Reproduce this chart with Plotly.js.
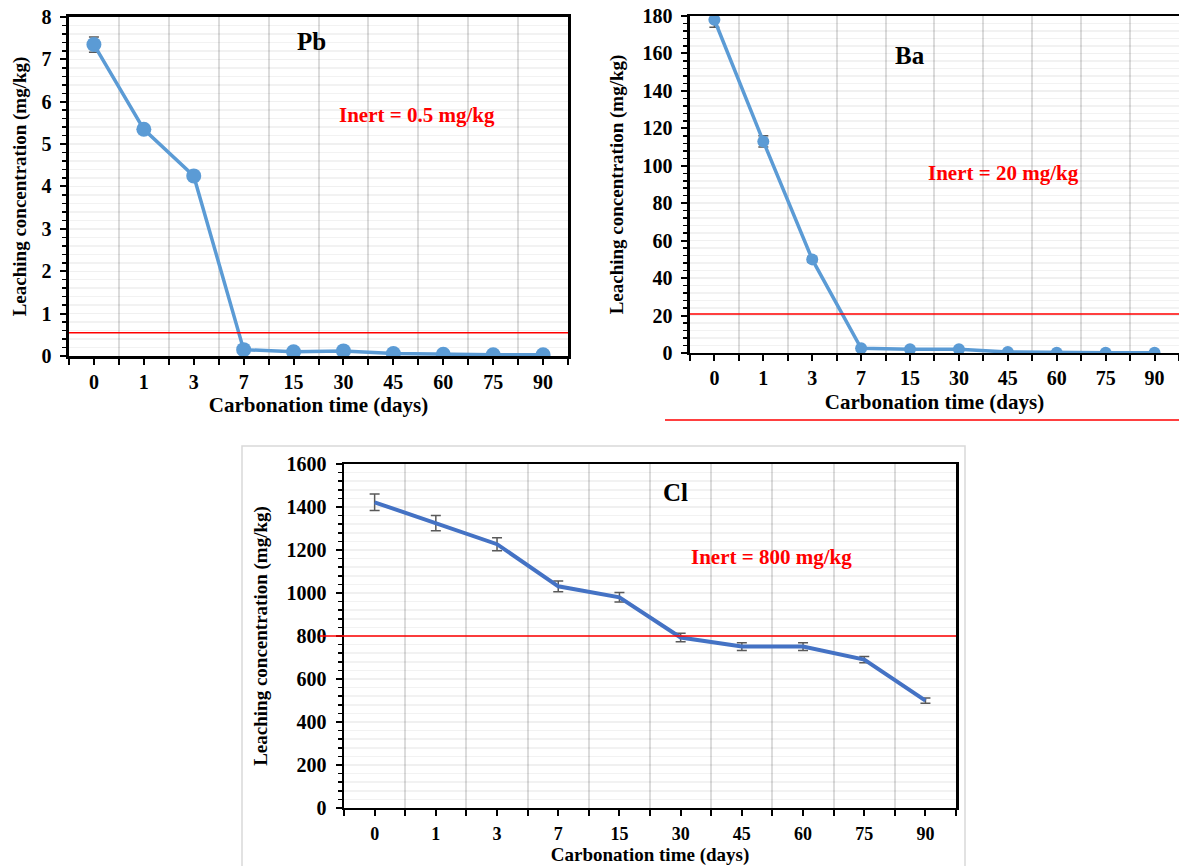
<!DOCTYPE html>
<html><head><meta charset="utf-8">
<script src="https://cdn.plot.ly/plotly-3.0.1.min.js"></script>
<style>html,body{margin:0;padding:0;background:#fff}#chart{width:1179px;height:866px}</style>
</head><body><div id="chart"></div><script>
const days = ['0','1','3','7','15','30','45','60','75','90'];
const pbValues = [7.35,5.35,4.25,0.15,0.10,0.12,0.06,0.04,0.03,0.03];
const pbErrors = [0.18,0.10,0.06,0.02,0.01,0.01,0.01,0.01,0.01,0.01];
const baValues = [178,113,50,2.5,2.0,2.0,0.5,0.1,0.1,0.1];
const baErrors = [4,3,1.5,0.3,0.2,0.2,0.1,0.05,0.05,0.05];
const clValues = [1422,1325,1227,1031,980,793,751,751,690,499];
const clErrors = [38,35,30,25,22,20,18,18,15,12];
const pbInert = 0.55, baInert = 20.8, clInert = 800;
const pbInertLabel = 'Inert = 0.5 mg/kg';
const baInertLabel = 'Inert = 20 mg/kg';
const clInertLabel = 'Inert = 800 mg/kg';
const xTitle = 'Carbonation time (days)';
const yTitle = 'Leaching concentration (mg/kg)';

const idx = days.map((d,i)=>i);
const FONT = 'Liberation Serif, Times New Roman, serif';
const f = (size,color) => ({family:FONT, size:size, color:color||'#000', weight:'bold'});

function xAxis(domain, anchor, tfs, titfs, lstand, standoff){
  return {domain:domain, anchor:anchor, range:[-0.5,9.5], tickmode:'array', tickvals:idx, ticktext:days,
    ticks:'outside', ticklen:6, tickwidth:2, tickcolor:'#000', ticklabelstandoff:lstand,
    showline:true, linecolor:'#000', linewidth:2.5, mirror:true, showgrid:false, zeroline:false,
    tickfont:f(tfs),
    minor:{tick0:-0.5, dtick:1, ticks:'outside', ticklen:6, tickwidth:2, tickcolor:'#000', showgrid:true, gridcolor:'#dcdcdc', gridwidth:2},
    title:{text:xTitle, font:f(titfs), standoff:standoff}};
}
function yAxis(domain, anchor, range, dtick, mdtick, standoff){
  return {domain:domain, anchor:anchor, range:range, dtick:dtick, tick0:0,
    ticks:'outside', ticklen:6, tickwidth:2, tickcolor:'#000', ticklabelstandoff:5,
    showline:true, linecolor:'#000', linewidth:2.5, mirror:true, showgrid:true, gridcolor:'rgba(0,0,0,0.06)', gridwidth:1.5, zeroline:false,
    tickfont:f(20),
    minor:{dtick:mdtick, ticks:'outside', ticklen:4, tickwidth:1.5, tickcolor:'#000', showgrid:true, gridcolor:'rgba(0,0,0,0.05)', gridwidth:1.5},
    title:{text:yTitle, font:f(19), standoff:standoff}};
}

const errStyle = {type:'data', color:'#595959', thickness:1.5, width:5};
const data = [
  {x:idx, y:pbValues, xaxis:'x', yaxis:'y', type:'scatter', mode:'lines+markers',
   line:{color:'#5B9BD5', width:3.5}, marker:{color:'#5B9BD5', size:15},
   error_y:Object.assign({array:pbErrors}, errStyle), showlegend:false},
  {x:idx, y:baValues, xaxis:'x2', yaxis:'y2', type:'scatter', mode:'lines+markers',
   line:{color:'#5B9BD5', width:3.5}, marker:{color:'#5B9BD5', size:12},
   error_y:Object.assign({array:baErrors}, errStyle), showlegend:false},
  {x:idx, y:clValues, xaxis:'x3', yaxis:'y3', type:'scatter', mode:'lines',
   line:{color:'#4472C4', width:4},
   error_y:Object.assign({array:clErrors}, errStyle), showlegend:false}
];

const layout = {
  width:1179, height:866, margin:{l:0,r:0,t:0,b:0}, paper_bgcolor:'#fff', plot_bgcolor:'#fff',
  showlegend:false,
  xaxis: xAxis([0.0585,0.4818],'y',20,21,0,3),
  yaxis: yAxis([0.5889,0.9804],'x',[0,8],1,0.2,10),
  xaxis2: xAxis([0.5852,1.0],'y2',20,21,0,6),
  yaxis2: yAxis([0.5924,0.9815],'x2',[0,180],20,4,14),
  xaxis3: xAxis([0.2918,0.8109],'y3',18,19,2,0),
  yaxis3: yAxis([0.0670,0.4642],'x3',[0,1600],200,40,14),
  shapes:[
    {type:'line', xref:'x domain', yref:'y', x0:0, x1:1, y0:pbInert, y1:pbInert, line:{color:'#ff0000', width:1.5}},
    {type:'line', xref:'x2 domain', yref:'y2', x0:0, x1:1, y0:baInert, y1:baInert, line:{color:'#ff0000', width:1.5}},
    {type:'line', xref:'x3 domain', yref:'y3', x0:-0.04, x1:1, y0:clInert, y1:clInert, line:{color:'#ff0000', width:1.5}},
    {type:'line', xref:'paper', yref:'paper', x0:665/1179, x1:1, y0:1-420/866, y1:1-420/866, line:{color:'#ff0000', width:1.5}},
    {type:'rect', xref:'paper', yref:'paper', x0:242/1179, x1:965/1179, y0:-0.01, y1:1-446/866, line:{color:'#d9d9d9', width:1.5}, layer:'below'}
  ],
  annotations:[
    {text:'Pb', xref:'paper', yref:'paper', x:311/1179, y:1-42/866, showarrow:false, font:f(25), xanchor:'center', yanchor:'middle'},
    {text:pbInertLabel, xref:'paper', yref:'paper', x:417/1179, y:1-115/866, showarrow:false, font:f(21,'#ff0000'), xanchor:'center', yanchor:'middle'},
    {text:'Ba', xref:'paper', yref:'paper', x:910/1179, y:1-56/866, showarrow:false, font:f(25), xanchor:'center', yanchor:'middle'},
    {text:baInertLabel, xref:'paper', yref:'paper', x:1003/1179, y:1-173/866, showarrow:false, font:f(21,'#ff0000'), xanchor:'center', yanchor:'middle'},
    {text:'Cl', xref:'paper', yref:'paper', x:675/1179, y:1-492/866, showarrow:false, font:f(25), xanchor:'center', yanchor:'middle'},
    {text:clInertLabel, xref:'paper', yref:'paper', x:771/1179, y:1-557/866, showarrow:false, font:f(21,'#ff0000'), xanchor:'center', yanchor:'middle'}
  ]
};
Plotly.newPlot('chart', data, layout, {displayModeBar:false, staticPlot:true});
</script></body></html>
